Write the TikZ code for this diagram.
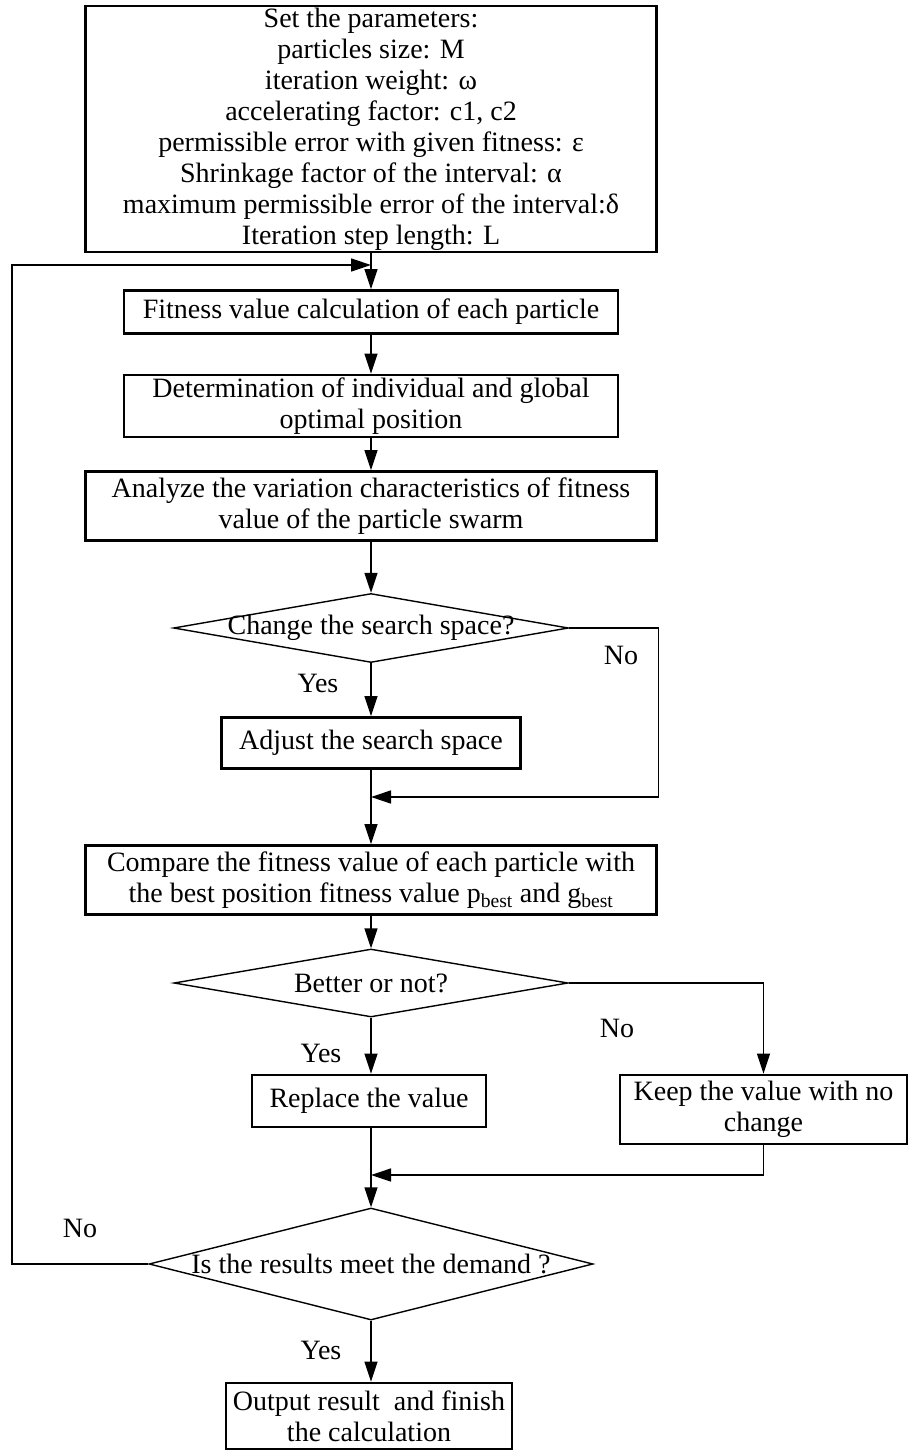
\documentclass[tikz,border=0pt]{standalone}
\usepackage{fontspec}
\setmainfont{Liberation Serif}
\usetikzlibrary{shapes.geometric,arrows.meta}

\tikzset{
  block/.style={draw, line width=2.8pt, align=center, inner sep=0pt},
  decision/.style={draw, diamond, line width=1.4pt, inner sep=0pt},
  flow/.style={-{Triangle[length=20pt,width=13pt]}, line width=1.4pt},
}

\begin{document}
\begin{tikzpicture}[x=1pt, y=-1pt,
    every node/.style={font=\fontsize{28}{31}\selectfont}]
  \useasboundingbox (0,0) rectangle (909,1450);

  \begin{scope}
    \node[block, minimum width=571pt, minimum height=246pt] (par) at (371,129)
    {Set the parameters:\\ particles size: M\\ iteration weight: ω\\
      accelerating factor: c1, c2\\ permissible error with given fitness: ε\\
      Shrinkage factor of the interval: α\\
      maximum permissible error of the interval:δ\\ Iteration step length: L};
    \node[block, minimum width=494pt, minimum height=43pt] (fit) at (371,312)
    {Fitness value calculation of each particle};
    \node[block, minimum width=494pt, minimum height=62pt] (det) at (371,406)
    {Determination of individual and global\\ optimal position};
    \node[block, minimum width=571pt, minimum height=69pt] (ana) at (371,506)
    {Analyze the variation characteristics of fitness\\ value of the particle swarm};

    \node[decision, minimum width=395pt, minimum height=69pt] (chg) at (371,628) {};
    \node (chgtxt) at (chg) {Change the search space?};
    \node[block, minimum width=299pt, minimum height=51pt] (adj) at (371,743)
    {Adjust the search space};

    \node[block, minimum width=571pt, minimum height=69pt] (cmp) at (371,880)
    {Compare the fitness value of each particle with\\
      the best position fitness value p\textsubscript{best} and g\textsubscript{best}};

    \node[decision, minimum width=394pt, minimum height=68pt] (bet) at (371,983) {};
    \node (bettxt) at (bet) {Better or not?};
    \node[block, minimum width=234pt, minimum height=52pt] (rep) at (369,1101)
    {Replace the value};
    \node[block, minimum width=287pt, minimum height=69pt] (keep) at (763.5,1109.5)
    {Keep the value with no\\ change};

    \node[decision, minimum width=444pt, minimum height=112pt] (res) at (371,1264) {};
    \node (restxt) at (res) {Is the results meet the demand ?};
    \node[block, minimum width=286pt, minimum height=66pt] (out) at (369,1416)
    {Output result \ and finish\\ the calculation};

    \node (yes1) at (318,683) {Yes};
    \node (no1) at (621,655) {No};
    \node (yes2) at (321,1053) {Yes};
    \node (no2) at (617,1028) {No};
    \node (no3) at (80,1228) {No};
    \node (yes3) at (321,1350) {Yes};

    \coordinate (back) at (12,265);
    \coordinate (in1) at (371,265);
    \coordinate (in2) at (371,797);
    \coordinate (in3) at (371,1175);
  \end{scope}

  \begin{scope}[flow]
    \draw (par.south) -- (fit.north);
    \draw (fit) -- (det);
    \draw (det) -- (ana);
    \draw (ana) -- (chg.north);
    \draw (chg.south) -- (adj.north);
    \draw (chg.east) -- ++(89,0) |- (in2);
    \draw (adj) -- (cmp);
    \draw (cmp) -- (bet.north);
    \draw (bet.south) -- (rep.north -| bet.south);
    \draw (bet.east) -| (keep.north);
    \draw (keep.south) |- (in3);
    \draw (rep.south -| res.north) -- (res.north);
    \draw (res.south) -- (out.north -| res.south);
    \draw (res.west) -| (back) -- (in1);
  \end{scope}
\end{tikzpicture}
\end{document}
